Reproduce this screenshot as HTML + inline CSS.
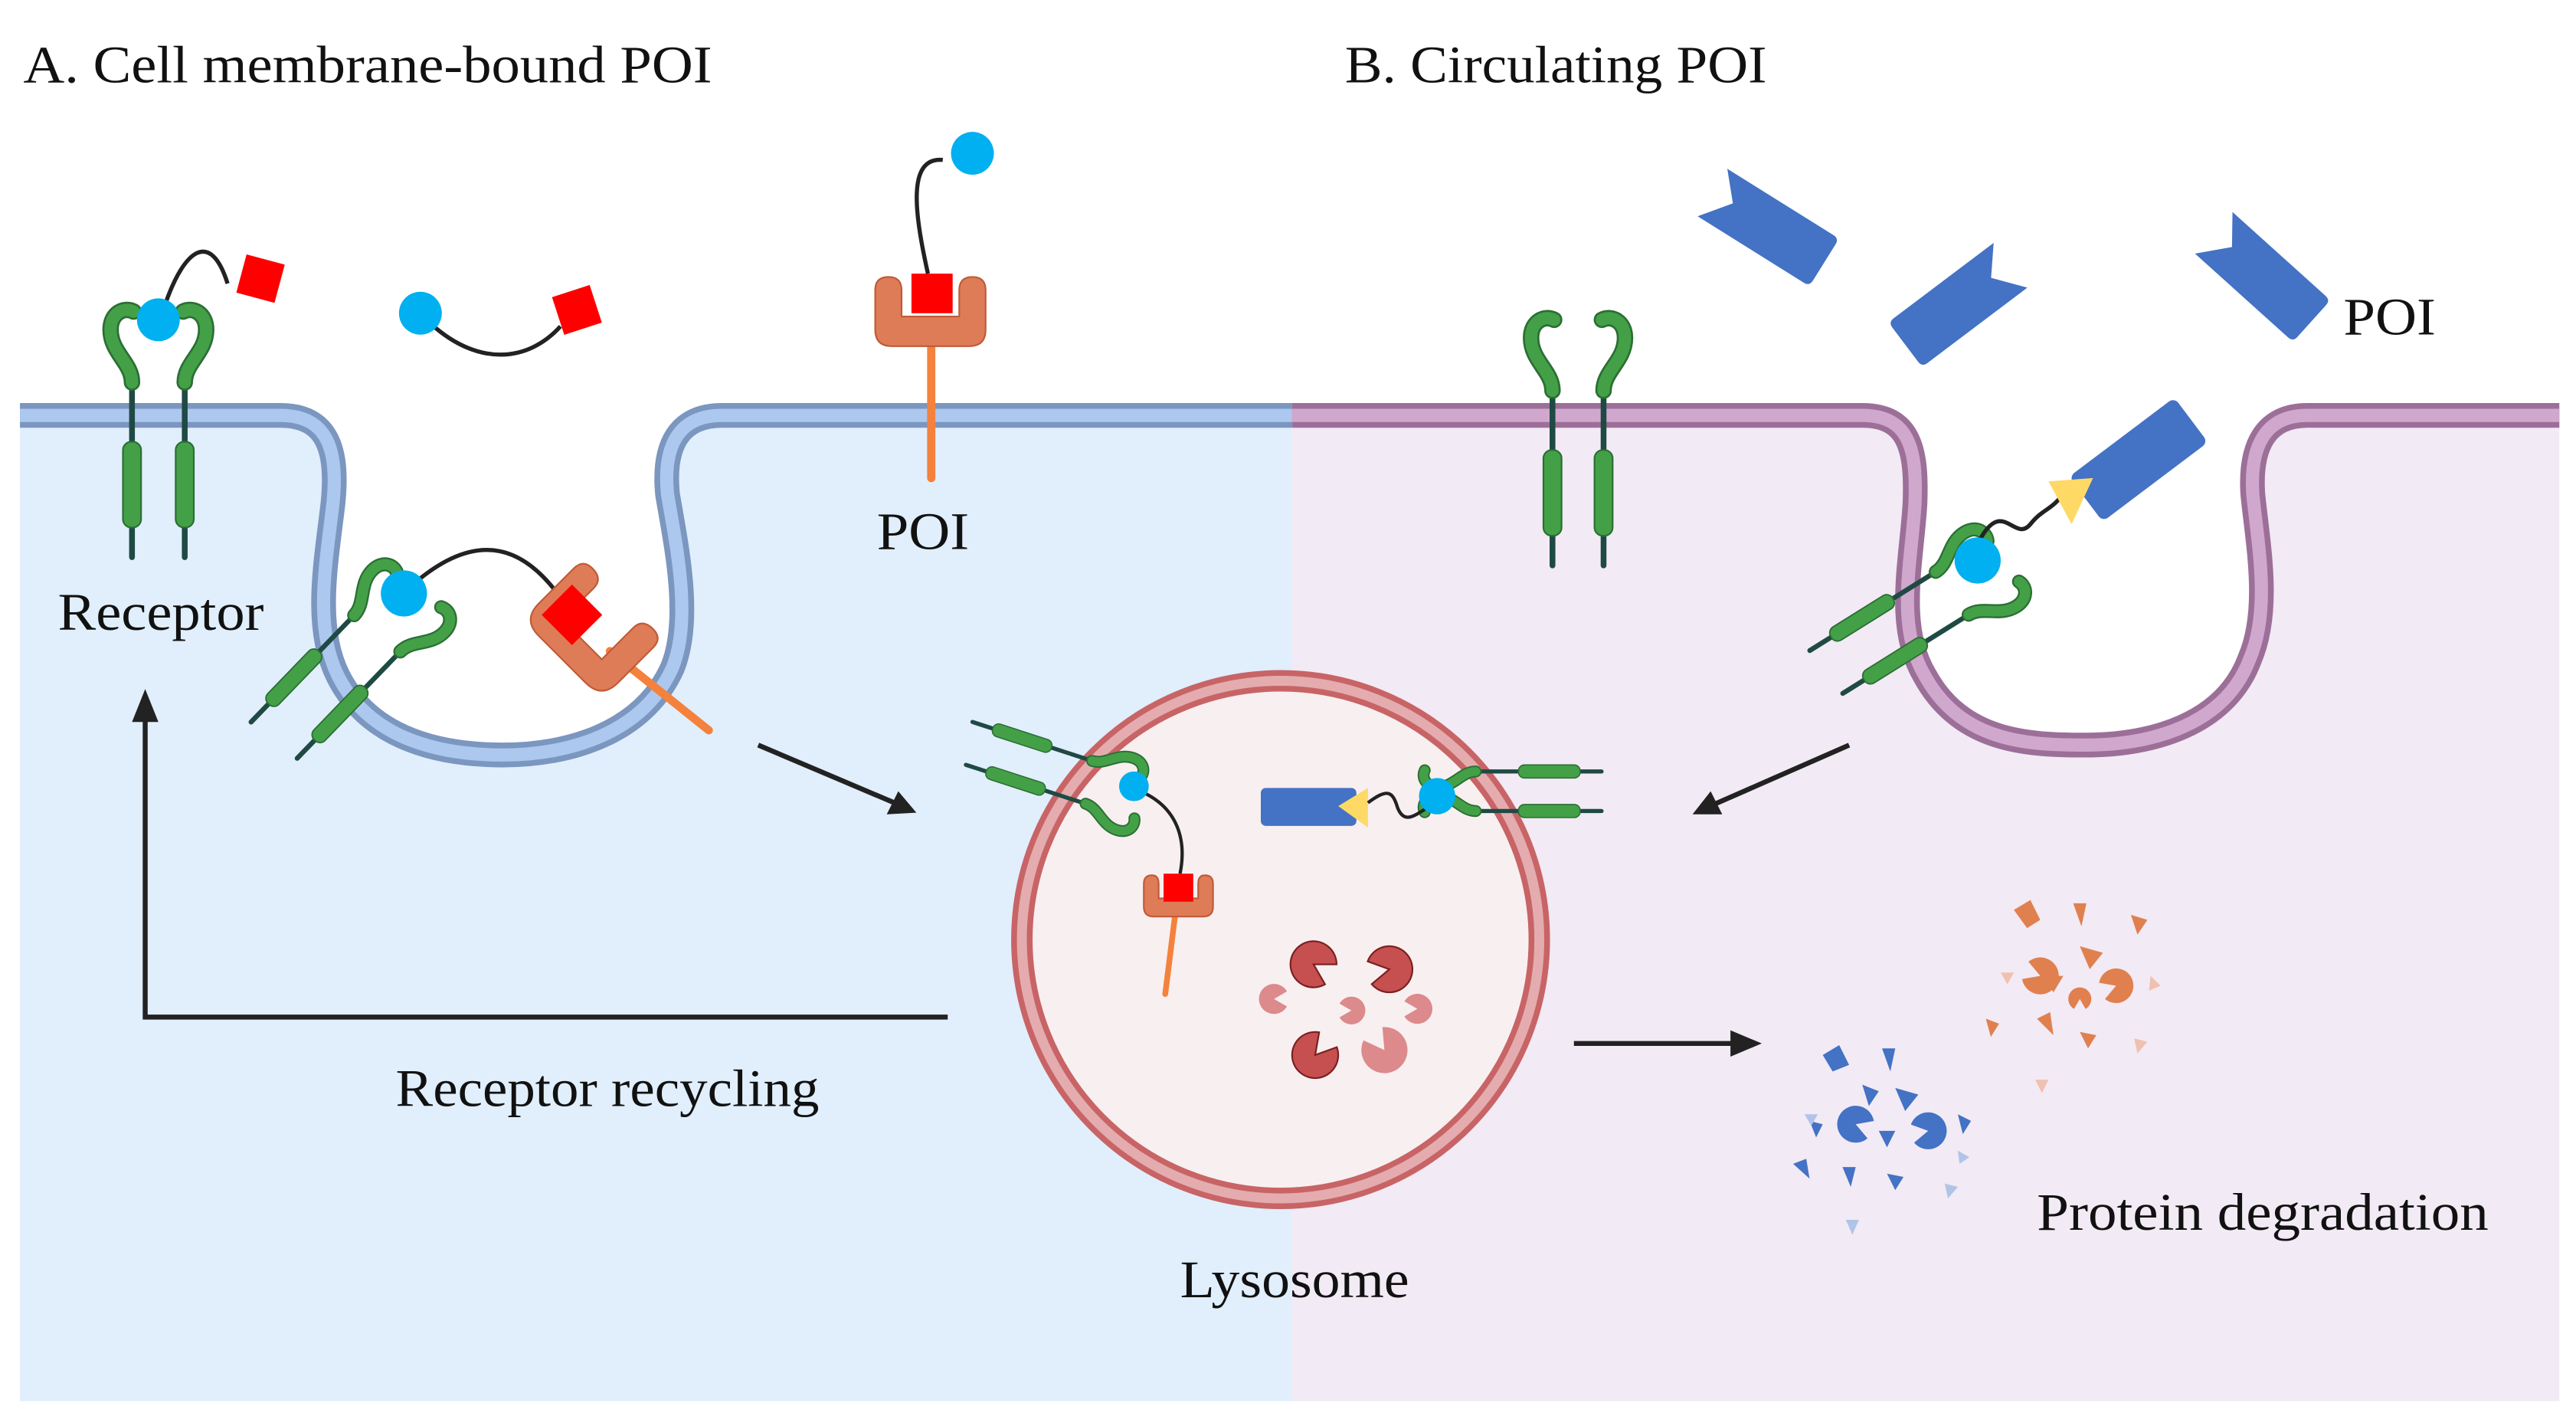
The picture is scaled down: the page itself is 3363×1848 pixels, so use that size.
<!DOCTYPE html>
<html><head><meta charset="utf-8"><style>
html,body{margin:0;padding:0;background:#fff;}
svg{display:block;}
text{font-family:"Liberation Serif",serif;fill:#111;}
</style></head><body>
<svg width="3363" height="1848" viewBox="0 0 1563 859" xmlns="http://www.w3.org/2000/svg">
<defs>
<g id="rec">
 <line x1="0" y1="0" x2="0" y2="108" stroke="#1f4a44" stroke-width="3.5" stroke-linecap="round"/>
 <rect x="-5.5" y="38" width="11" height="52" rx="5" fill="#43a047" stroke="#2b6e34" stroke-width="1"/>
 <path d="M0,2 C0,-10 -13,-16 -13,-30 C-13,-40 -5,-44 1,-41" fill="none" stroke="#2b6e34" stroke-width="10" stroke-linecap="round"/>
 <path d="M0,2 C0,-10 -13,-16 -13,-30 C-13,-40 -5,-44 1,-41" fill="none" stroke="#43a047" stroke-width="7.5" stroke-linecap="round"/>
</g>
<g id="recm"><use href="#rec" transform="scale(-1,1)"/></g>
<path id="poi" d="M-40,-17 L36,-17 Q40,-17 40,-13 L40,13 Q40,17 36,17 L-40,17 L-26,-1 Z"/>
<path id="pac" d="M0,0 L12.1,7 A14,14 0 1 1 12.1,-7 Z"/>
</defs>

<!-- backgrounds -->
<path d="M12,252 L170,252 C200,252 205,275 202,305 C198,340 190,380 205,410 C225,450 270,458 305,458 C345,458 390,445 408,405 C420,375 410,330 405,300 C402,270 412,252 438,252 L784,252 L784,850 L12,850 Z" fill="#e1eefc"/>
<path d="M784,252 L1130,252 C1160,252 1163,275 1162,305 C1160,340 1150,380 1168,410 C1190,450 1230,452 1265,452 C1305,452 1350,440 1365,400 C1378,370 1370,330 1367,300 C1365,270 1375,252 1400,252 L1553,252 L1553,850 L784,850 Z" fill="#f2eaf4"/>
<!-- membranes -->
<path d="M12,252 L170,252 C200,252 205,275 202,305 C198,340 190,380 205,410 C225,450 270,458 305,458 C345,458 390,445 408,405 C420,375 410,330 405,300 C402,270 412,252 438,252 L784,252" fill="none" stroke="#7b96bf" stroke-width="15"/>
<path d="M12,252 L170,252 C200,252 205,275 202,305 C198,340 190,380 205,410 C225,450 270,458 305,458 C345,458 390,445 408,405 C420,375 410,330 405,300 C402,270 412,252 438,252 L784,252" fill="none" stroke="#adc8ee" stroke-width="8"/>
<path d="M784,252 L1130,252 C1160,252 1163,275 1162,305 C1160,340 1150,380 1168,410 C1190,450 1230,452 1265,452 C1305,452 1350,440 1365,400 C1378,370 1370,330 1367,300 C1365,270 1375,252 1400,252 L1553,252" fill="none" stroke="#9c6f99" stroke-width="15"/>
<path d="M784,252 L1130,252 C1160,252 1163,275 1162,305 C1160,340 1150,380 1168,410 C1190,450 1230,452 1265,452 C1305,452 1350,440 1365,400 C1378,370 1370,330 1367,300 C1365,270 1375,252 1400,252 L1553,252" fill="none" stroke="#d0a8cd" stroke-width="8"/>

<!-- titles -->
<text x="14" y="50" font-size="32" textLength="418" lengthAdjust="spacingAndGlyphs">A. Cell membrane-bound POI</text>
<text x="816" y="50" font-size="32" textLength="256" lengthAdjust="spacingAndGlyphs">B. Circulating POI</text>
<text x="35" y="382" font-size="32" textLength="125" lengthAdjust="spacingAndGlyphs">Receptor</text>
<text x="532" y="333" font-size="32" textLength="56" lengthAdjust="spacingAndGlyphs">POI</text>
<text x="1422" y="203" font-size="32" textLength="56" lengthAdjust="spacingAndGlyphs">POI</text>
<text x="240" y="671" font-size="32" textLength="257" lengthAdjust="spacingAndGlyphs">Receptor recycling</text>
<text x="716" y="787" font-size="32" textLength="139" lengthAdjust="spacingAndGlyphs">Lysosome</text>
<text x="1236" y="746" font-size="32" textLength="274" lengthAdjust="spacingAndGlyphs">Protein degradation</text>

<!-- top-left receptor pair -->
<use href="#rec" transform="translate(80,230)"/>
<use href="#recm" transform="translate(112,230)"/>
<path d="M100,185 C112,150 128,140 138,172" fill="none" stroke="#222" stroke-width="2.5"/>
<circle cx="96" cy="194" r="13" fill="#00b0f0"/>
<rect x="146" y="157" width="24" height="24" fill="#f00" transform="rotate(15 158 169)"/>
<!-- free molecule -->
<path d="M262,197 C290,222 320,220 340,198" fill="none" stroke="#222" stroke-width="2.5"/>
<circle cx="255" cy="190" r="13" fill="#00b0f0"/>
<rect x="338" y="176" width="24" height="24" fill="#f00" transform="rotate(-18 350 188)"/>
<!-- POI top -->
<line x1="565" y1="205" x2="565" y2="290" stroke="#f4823c" stroke-width="5" stroke-linecap="round"/>
<path d="M531,176 L531,200 Q531,210 541,210 L588,210 Q598,210 598,200 L598,176 Q598,168 590,168 Q582,168 582,176 L582,192 L547,192 L547,176 Q547,168 539,168 Q531,168 531,176 Z" fill="#de7c57" stroke="#c05a38" stroke-width="1"/>
<rect x="553" y="166" width="25" height="24" fill="#f00"/>
<path d="M563,166 C555,130 550,95 572,97" fill="none" stroke="#222" stroke-width="2.5"/>
<circle cx="590" cy="93" r="13" fill="#00b0f0"/>

<!-- left pit contents -->
<use href="#rec" transform="translate(216,372) rotate(44) scale(0.85)"/>
<use href="#recm" transform="translate(244,394) rotate(44) scale(0.85)"/>
<path d="M250,355 C290,320 320,330 345,370" fill="none" stroke="#222" stroke-width="2.5"/>
<circle cx="245" cy="360" r="14" fill="#00b0f0"/>
<line x1="370" y1="395" x2="430" y2="443" stroke="#f4823c" stroke-width="5" stroke-linecap="round"/>
<g transform="translate(358,383) rotate(45)">
 <path d="M-34,-20 L-34,10 Q-34,24 -20,24 L20,24 Q34,24 34,10 L34,-20 Q34,-28 26,-28 Q17,-28 17,-20 L17,7 L-17,7 L-17,-20 Q-17,-28 -26,-28 Q-34,-28 -34,-20 Z" fill="#de7c57" stroke="#c05a38" stroke-width="1"/>
</g>
<rect x="334" y="360" width="26" height="26" fill="#f00" transform="rotate(45 347 373)"/>

<!-- right top receptors -->
<use href="#rec" transform="translate(942,235)"/>
<use href="#recm" transform="translate(973,235)"/>
<!-- free POIs -->
<use href="#poi" fill="#4472c4" transform="translate(1073,138) rotate(32)"/>
<use href="#poi" fill="#4472c4" transform="translate(1188,185) rotate(143) scale(1,-1)"/>
<use href="#poi" fill="#4472c4" transform="translate(1373,168) rotate(42)"/>
<!-- right pit contents -->
<use href="#rec" transform="translate(1176,346) rotate(58) scale(0.85)"/>
<use href="#recm" transform="translate(1196,372) rotate(58) scale(0.85)"/>
<path d="M1200,330 C1215,300 1222,330 1232,318 C1240,308 1245,310 1253,298" fill="none" stroke="#222" stroke-width="2.5"/>
<circle cx="1200" cy="340" r="14" fill="#00b0f0"/>
<g transform="translate(1296,280) rotate(-37)">
 <rect x="-38" y="-17" width="80" height="34" rx="4" fill="#4472c4"/>
</g>
<polygon points="1243,292 1270,290 1257,318" fill="#ffd966"/>

<!-- lysosome -->
<ellipse cx="777" cy="570" rx="157" ry="157" fill="#f8eff0" stroke="#c86466" stroke-width="13"/>
<ellipse cx="777" cy="570" rx="157" ry="157" fill="none" stroke="#e4acae" stroke-width="6"/>
<!-- lysosome left complex -->
<use href="#rec" transform="translate(664,462) rotate(108) scale(0.72)"/>
<use href="#recm" transform="translate(660,488) rotate(108) scale(0.72)"/>
<path d="M692,480 C715,490 720,510 716,530" fill="none" stroke="#222" stroke-width="2"/>
<circle cx="688" cy="477" r="9" fill="#00b0f0"/>
<line x1="713" y1="555" x2="707" y2="603" stroke="#f4823c" stroke-width="3.5" stroke-linecap="round"/>
<path d="M694,536 L694,550 Q694,556 700,556 L730,556 Q736,556 736,550 L736,536 Q736,531 731,531 Q727,531 727,536 L727,545 L703,545 L703,536 Q703,531 699,531 Q694,531 694,536 Z" fill="#de7c57" stroke="#c05a38" stroke-width="1"/>
<rect x="706" y="530" width="18" height="17" fill="#f00"/>
<!-- lysosome right complex -->
<rect x="765" y="478" width="58" height="23" rx="3" fill="#4472c4"/>
<polygon points="812,489 830,478 830,502" fill="#ffd966"/>
<use href="#rec" transform="translate(894,468) rotate(-90) scale(0.72)"/>
<use href="#recm" transform="translate(894,492) rotate(-90) scale(0.72)"/>
<path d="M830,487 C842,478 845,480 848,490 C852,500 858,495 866,490" fill="none" stroke="#222" stroke-width="2"/>
<circle cx="872" cy="483" r="11" fill="#00b0f0"/>
<!-- pacmen -->
<g stroke="#7a1f22" stroke-width="1" fill="#c64f4f">
<use href="#pac" transform="translate(797,585) rotate(30)"/>
<use href="#pac" transform="translate(843,588) rotate(170)"/>
<use href="#pac" transform="translate(798,640) rotate(-50)"/>
</g>
<g fill="#dc8a8c">
<use href="#pac" transform="translate(840,637) rotate(-125)"/>
<use href="#pac" transform="translate(773,606) rotate(0) scale(0.65)"/>
<use href="#pac" transform="translate(820,613) rotate(180) scale(0.6)"/>
<use href="#pac" transform="translate(860,612) rotate(180) scale(0.65)"/>
</g>

<!-- arrows -->
<g stroke="#222" stroke-width="3" fill="none">
<line x1="460" y1="452" x2="545" y2="488"/>
<polyline points="575,617 88,617 88,435"/>
<line x1="1122" y1="452" x2="1040" y2="488"/>
<line x1="955" y1="633" x2="1055" y2="633"/>
</g>
<g fill="#222">
<polygon points="556,493 538,494 545,480"/>
<polygon points="88,418 80,438 96,438"/>
<polygon points="1027,494 1038,480 1045,494"/>
<polygon points="1069,633 1050,625 1050,641"/>
</g>

<!-- degradation fragments orange -->
<g fill="#e0804f">
<path d="M1222,552 l10,-6 l6,12 l-8,5 z"/><path d="M1258,548 l8,0 l-3,14 z"/><path d="M1293,555 l10,3 l-6,9 z"/>
<use href="#pac" transform="translate(1238,592) rotate(200) scale(0.8)"/>
<path d="M1262,574 l14,4 l-8,10 z"/>
<use href="#pac" transform="translate(1284,598) rotate(160) scale(0.75)"/>
<path d="M1240,592 l12,0 l-6,10 z"/>
<use href="#pac" transform="translate(1262,606) rotate(90) scale(0.5)"/>
<path d="M1236,618 l8,-4 l2,14 z"/>
<path d="M1205,618 l8,3 l-5,8 z"/><path d="M1262,626 l10,2 l-5,8 z"/>
</g>
<g fill="#f0c0b0"><path d="M1214,590 l8,0 l-4,7 z"/><path d="M1305,592 l6,6 l-7,3 z"/><path d="M1235,655 l8,0 l-4,8 z"/><path d="M1295,630 l8,2 l-6,7 z"/></g>
<!-- blue fragments -->
<g fill="#4472c4">
<path d="M1106,640 l10,-6 l6,12 l-10,4 z"/><path d="M1142,636 l8,0 l-3,14 z"/><path d="M1130,658 l10,4 l-6,9 z"/>
<use href="#pac" transform="translate(1126,682) rotate(20) scale(0.8)"/>
<path d="M1150,660 l14,4 l-8,10 z"/>
<use href="#pac" transform="translate(1170,686) rotate(170) scale(0.8)"/>
<path d="M1140,686 l10,0 l-5,10 z"/><path d="M1088,706 l8,-3 l2,12 z"/><path d="M1118,708 l8,0 l-3,12 z"/>
<path d="M1145,712 l10,2 l-5,8 z"/><path d="M1188,676 l8,4 l-5,8 z"/><path d="M1098,680 l8,2 l-4,8 z"/>
</g>
<g fill="#b0c4e8"><path d="M1095,676 l8,0 l-4,7 z"/><path d="M1180,718 l8,2 l-6,7 z"/><path d="M1120,740 l8,0 l-4,9 z"/><path d="M1188,698 l7,4 l-6,4 z"/></g>
</svg>
</body></html>
